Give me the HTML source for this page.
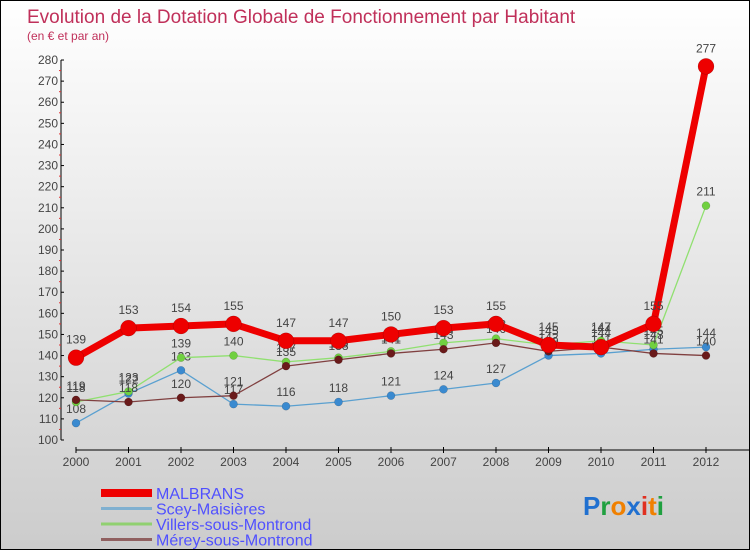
<!DOCTYPE html>
<html><head><meta charset="utf-8"><style>
html,body{margin:0;padding:0}
body{width:750px;height:550px;overflow:hidden;font-family:"Liberation Sans",sans-serif}
#wrap{position:relative;width:748px;height:548px;border:1px solid #000;background:linear-gradient(#ffffff,#cccccc)}
</style></head><body>
<div id="wrap">
<svg id="chart" width="748" height="548"></svg>
</div>
<script>
const years=[2000,2001,2002,2003,2004,2005,2006,2007,2008,2009,2010,2011,2012];
const malbrans=[139,153,154,155,147,147,150,153,155,145,144,155,277];
const scey=[108,122,133,117,116,118,121,124,127,140,141,143,144];
const villers=[118,123,139,140,137,139,142,146,148,145,147,145,211];
const merey=[119,118,120,121,135,138,141,143,146,142,144,141,140];
const yTicks=[100,110,120,130,140,150,160,170,180,190,200,210,220,230,240,250,260,270,280];
const NS="http://www.w3.org/2000/svg";
const svg=document.getElementById('chart');
const X=i=>75+i*52.5;
const Y=v=>439-(v-100)*2.111;
function mk(tag,attrs,parent){const e=document.createElementNS(NS,tag);for(const k in attrs)e.setAttribute(k,attrs[k]);(parent||svg).appendChild(e);return e;}
function txt(s,attrs){const t=mk('text',attrs);t.textContent=s;return t;}
let e;
e=txt('Evolution de la Dotation Globale de Fonctionnement par Habitant',{x:26,y:22,'font-size':19,fill:'#c0305a'});


e=txt('(en € et par an)',{x:26,y:39,'font-size':12,fill:'#c0305a'});


// y axis
e=mk('line',{x1:60,y1:Y(280),x2:60,y2:Y(100),stroke:'#000','stroke-width':1});


yTicks.forEach(v=>{
  e=mk('line',{x1:60,y1:Y(v),x2:63,y2:Y(v),stroke:'#000'});
  
  
  if(v<280){e=mk('line',{x1:58,y1:Y(v+5),x2:60,y2:Y(v+5),stroke:'#e03030'});
  
  }
  e=txt(v,{x:57,y:Y(v)+4,'font-size':12,fill:'#444','text-anchor':'end'});
  
  
});
// x axis
e=mk('line',{x1:75,y1:449,x2:748,y2:449,stroke:'#000'});


years.forEach((y,i)=>{
  e=mk('line',{x1:X(i),y1:446,x2:X(i),y2:452,stroke:'#000'});
  
  
  e=txt(y,{x:X(i),y:465,'font-size':12,fill:'#444','text-anchor':'middle'});
  
  
});
function series(vals,color,dot,w,r,name){
  const g=mk('g',{});
  
  
  e=mk('polyline',{points:vals.map((v,i)=>X(i)+','+Y(v)).join(' '),fill:'none',stroke:color,'stroke-width':w,'stroke-linejoin':'round'},g);
  
  
  vals.forEach((v,i)=>{
    e=mk('circle',{cx:X(i),cy:Y(v),r:r,fill:dot,stroke:'rgba(0,0,0,0.25)','stroke-width':0.5},g);
    
    
    e=mk('text',{x:X(i),y:Y(v)-(r+6),'font-size':12,fill:'#444','text-anchor':'middle'},g);
    e.textContent=v;
    
    
  });
}
series(scey,'#5aa0d0','#3a8ad0',1.3,4,'scey-maisieres');
series(villers,'#90e070','#70d040',1.3,4,'villers-sous-montrond');
series(merey,'#804040','#6a1a1a',1.3,4,'merey-sous-montrond');
series(malbrans,'#ee0000','#ee0000',7,8,'malbrans');
// legend
const leg=[['MALBRANS','#ee0000',8],['Scey-Maisières','#80b0d0',3],['Villers-sous-Montrond','#90d070',3],['Mérey-sous-Montrond','#906060',3]];
leg.forEach((l,i)=>{
  const y=492+i*15.5;
  e=mk('line',{x1:100,y1:y,x2:151,y2:y,stroke:l[1],'stroke-width':l[2]});
  
  
  e=txt(l[0],{x:155,y:y+6,'font-size':16,fill:'#5050ff'});
  
  
});
// logo
const logo=mk('text',{x:582,y:514,'font-size':26,'font-weight':'bold'});


[['P','#2070d0'],['r','#20a040'],['o','#f08000'],['x','#2070d0'],['i','#e03020'],['t','#f08000'],['i','#20a040']].forEach(c=>{const s=document.createElementNS(NS,'tspan');s.setAttribute('fill',c[1]);s.textContent=c[0];logo.appendChild(s);});
</script>
</body></html>
